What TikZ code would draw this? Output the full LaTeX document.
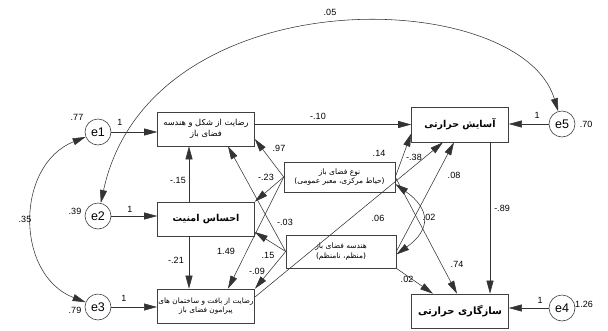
\documentclass[tikz,border=0pt]{standalone}
\usepackage{fontspec}
\setmainfont{Liberation Sans}
\newfontfamily\fa[Script=Arabic]{DejaVu Sans}
\TeXXeTstate=1
\usetikzlibrary{arrows.meta}

\tikzset{
  bigtri/.tip={Triangle[length=13pt,width=7pt]},
  varbox/.style={draw=black!75, line width=0.6pt, minimum width=97pt, minimum height=34pt, inner sep=1pt, align=center, font=\fa\fontsize{7.5}{9.5}\selectfont},
  bigbox/.style={varbox, font=\fa\bfseries\fontsize{9.5}{11}\selectfont},
  errnode/.style={circle, draw=black!75, line width=0.6pt, minimum size=26pt, inner sep=0pt, font=\fontsize{12.5}{14}\selectfont},
  arr/.style={draw=black!80, line width=0.55pt, -bigtri},
  cov/.style={draw=black!80, line width=0.55pt, bigtri-bigtri},
  coef/.style={inner sep=0pt, font=\fontsize{9}{10}\selectfont},
}

\begin{document}
\begin{tikzpicture}[x=1pt,y=-1pt]
  \useasboundingbox (0,0) rectangle (608,330);

  % observed variables
  \node[varbox, font=\fa\fontsize{8.3}{10.5}\selectfont] (shape) at (206,129) {\beginR رضایت از شکل و هندسه\endR\\\beginR فضای باز\endR};
  \node[bigbox] (safety) at (206,219) {\beginR احساس امنیت\endR};
  \node[varbox, font=\fa\fontsize{7.3}{9.5}\selectfont] (fabric) at (206,306) {\beginR رضایت از بافت و ساختمان های\endR\\\beginR پیرامون فضای باز\endR};
  \node[varbox, minimum width=111pt, minimum height=30pt] (type) at (339.5,177) {\beginR نوع فضای باز\endR\\\beginR(حیاط مرکزی، معبر عمومی)\endR};
  \node[varbox, minimum width=110pt, minimum height=33pt] (geom) at (341,251.5) {\beginR هندسه فضای باز\endR\\\beginR(منظم، نامنظم)\endR};
  \node[bigbox, minimum height=35pt] (comfort) at (460,124.5) {\beginR آسایش حرارتی\endR};
  \node[bigbox, font=\fa\bfseries\fontsize{10}{12}\selectfont] (adapt) at (460,311) {\beginR سازگاری حرارتی\endR};

  % error terms
  \node[errnode] (e1) at (98,132) {e1};
  \node[errnode] (e2) at (98,216) {e2};
  \node[errnode] (e3) at (98,307) {e3};
  \node[errnode] (e5) at (562,124) {e5};
  \node[errnode] (e4) at (562,308) {e4};

  \draw[arr] (e1) -- (e1 -| shape.west);
  \draw[arr] (e2) -- (e2 -| safety.west);
  \draw[arr] (e3) -- (e3 -| fabric.west);
  \draw[arr] (e5) -- (e5 -| comfort.east);
  \draw[arr] (e4) -- (e4 -| adapt.east);

  % paths
  \draw[arr] ([xshift=-17pt]safety.north) -- ([xshift=-17pt]shape.south);
  \draw[arr] ([xshift=-17pt]safety.south) -- ([xshift=-17pt]fabric.north);
  \draw[arr] (shape.east |- comfort.west) -- (comfort.west);
  \draw[arr] (type.west) -- ([yshift=-10pt]shape.east);
  \draw[arr] (type.west) -- (safety.north east);
  \draw[arr] (type.west) -- ([xshift=22pt]fabric.north);
  \draw[arr] (geom.west) -- ([xshift=22pt]shape.south);
  \draw[arr] (geom.west) -- ([yshift=-13pt]safety.east);
  \draw[arr] (geom.west) -- (fabric.north east);
  \draw[arr] (type.east) -- ([yshift=-9pt]comfort.west);
  \draw[arr] ([yshift=9pt]fabric.east) -- ([xshift=-17pt]comfort.south);
  \draw[arr] (geom.east) -- ([xshift=-6pt]comfort.south);
  \draw[arr] (type.east) -- ([xshift=-3pt]adapt.north);
  \draw[arr] (geom.south east) -- ([xshift=-27pt]adapt.north);
  \draw[arr] ([xshift=30pt]comfort.south) -- ([xshift=30pt]adapt.north);

  % covariances
  \draw[cov] ([yshift=-7pt]type.east) .. controls +(35,25) and +(35,-25) .. ([yshift=-3pt]geom.east);
  \draw[cov] (e1) .. controls (15,165) and (15,275) .. (e3);
  \draw[cov] (e2) .. controls (150,-25) and (520,-15) .. (e5);

  % estimates
  \node[coef] (ve1) at (77,117) {.77};
  \node[coef] (ve2) at (75,211) {.39};
  \node[coef] (ve3) at (75,310) {.79};
  \node[coef] (ve5) at (586,124) {.70};
  \node[coef] (ve4) at (584,304) {1.26};
  \node[coef] (w1) at (120,122) {1};
  \node[coef] (w2) at (130,209) {1};
  \node[coef] (w3) at (124,298) {1};
  \node[coef] (w5) at (537,115) {1};
  \node[coef] (w4) at (540,300) {1};
  \node[coef] (r13) at (25,219) {.35};
  \node[coef] (r25) at (330,12) {.05};
  \node[coef] (rtg) at (429,217) {.02};
  \node[coef] (b1) at (178,180) {-.15};
  \node[coef] (b2) at (176,260) {-.21};
  \node[coef] (b3) at (279,148) {.97};
  \node[coef] (b4) at (266,177) {-.23};
  \node[coef] (b5) at (285,222) {-.03};
  \node[coef] (b6) at (268,255) {.15};
  \node[coef] (b7) at (226,251) {1.49};
  \node[coef] (b8) at (257,271) {-.09};
  \node[coef] (b9) at (318,116) {-.10};
  \node[coef] (b10) at (379,153) {.14};
  \node[coef] (b11) at (414,157) {-.38};
  \node[coef] (b12) at (454,175) {.08};
  \node[coef] (b13) at (378,218) {.06};
  \node[coef] (b14) at (457,264) {.74};
  \node[coef] (b15) at (407,279) {.02};
  \node[coef] (b16) at (502,208) {-.89};
\end{tikzpicture}
\end{document}
